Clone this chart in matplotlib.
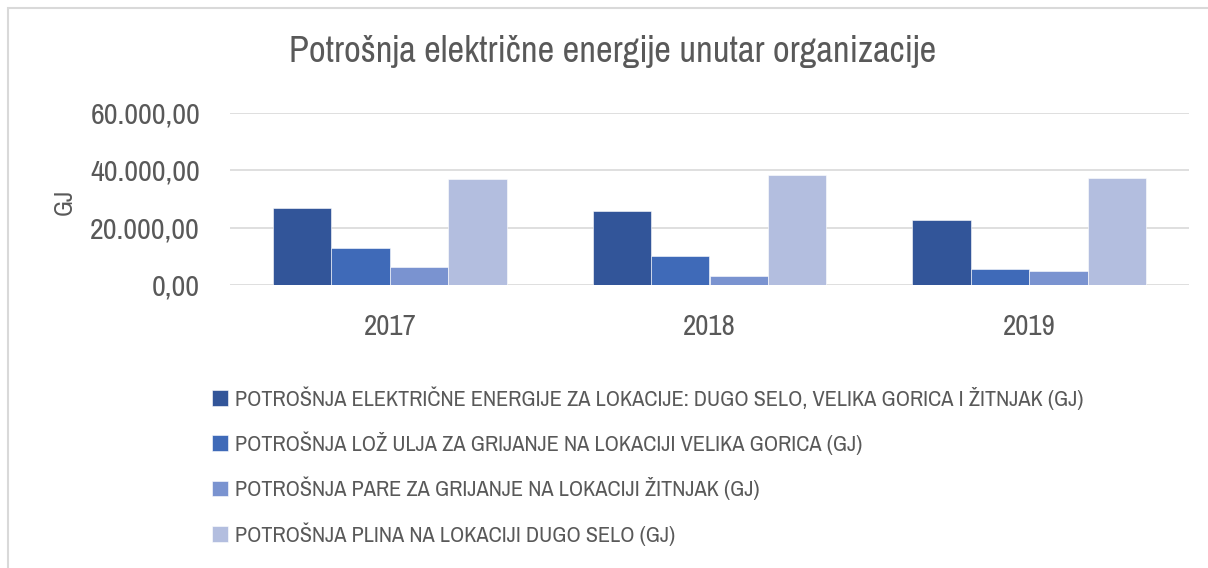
import matplotlib
matplotlib.use("Agg")
import matplotlib.pyplot as plt
from matplotlib import font_manager
from matplotlib.patches import Rectangle
from matplotlib.ticker import FuncFormatter
import numpy as np

# --- podaci ---
godine = ["2017", "2018", "2019"]
serije = [
    "POTROŠNJA ELEKTRIČNE ENERGIJE ZA LOKACIJE: DUGO SELO, VELIKA GORICA I ŽITNJAK (GJ)",
    "POTROŠNJA LOŽ ULJA ZA GRIJANJE NA LOKACIJI VELIKA GORICA (GJ)",
    "POTROŠNJA PARE ZA GRIJANJE NA LOKACIJI ŽITNJAK (GJ)",
    "POTROŠNJA PLINA NA LOKACIJI DUGO SELO (GJ)",
]
struja = [26800, 25700, 22500]
loz_ulje = [12800, 10000, 5500]
para = [6200, 3100, 4800]
plin = [37000, 38400, 37200]
boje = ["#325599", "#3F6AB8", "#7A93D0", "#B3BEDF"]

# uski font ako postoji
fontovi = {f.name for f in font_manager.fontManager.ttflist}
uski = [f.name for f in font_manager.fontManager.ttflist
        if "Narrow" in f.name or "Condensed" in f.name]
if uski:
    glavni = sorted(uski)[0]
else:
    glavni = "Liberation Sans" if "Liberation Sans" in fontovi else "DejaVu Sans"
plt.rcParams["font.family"] = [glavni, "DejaVu Sans"]
siva = "#595959"

fig = plt.figure(figsize=(12.08, 5.68), dpi=100)
ax = fig.add_axes([230 / 1208, 1 - 285 / 568, (1189 - 230) / 1208, (285 - 112.7) / 568])

x = np.arange(len(godine))
w = 0.1825
for i, vals in enumerate([struja, loz_ulje, para, plin]):
    ax.bar(x + (i - 1.5) * w, vals, width=w, color=boje[i], label=serije[i],
           edgecolor="white", linewidth=0.4, zorder=3)

ax.set_xlim(-0.5, 2.5)
ax.set_ylim(0, 60000)
ax.set_yticks([0, 20000, 40000, 60000])
ax.yaxis.set_major_formatter(FuncFormatter(
    lambda v, p: f"{v:,.2f}".replace(",", "X").replace(".", ",").replace("X", ".")))
ax.set_xticks(x)
ax.set_xticklabels(godine)
ax.grid(axis="y", color="#D9D9D9", linewidth=1.2, zorder=0)
for s in ax.spines.values():
    s.set_visible(False)
ax.tick_params(length=0, colors=siva)

naslov = fig.text(613 / 1208, 1 - 52 / 568, "Potrošnja električne energije unutar organizacije",
                  fontsize=25, color=siva, ha="center", va="center")
fig.text(64 / 1208, 1 - 202 / 568, "GJ", fontsize=18, color=siva,
         rotation=90, ha="center", va="center")

r = fig.canvas.get_renderer()


# velicina teksta prema sirini u referenci
def prilagodi(t, cilj, maks):
    t.set_fontsize(20)
    s = 20 * cilj / t.get_window_extent(r).width
    t.set_fontsize(min(s, maks))
    return min(s, maks)


prilagodi(naslov, 645, 32)

probe = fig.text(0, 0, "60.000,00")
vy = prilagodi(probe, 110, 24)
probe.set_text("2017")
vx = prilagodi(probe, 53, 24)
probe.set_text(serije[0])
vl = prilagodi(probe, 852, 18)
probe.remove()

ax.tick_params(axis="y", labelsize=vy, pad=30 * 0.72)
ax.tick_params(axis="x", labelsize=vx, pad=29 * 0.72)

px = vl * 100 / 72
leg = fig.legend(loc="center left", bbox_to_anchor=(212 / 1208, 1 - 466 / 568),
                 frameon=False, fontsize=vl, handlelength=16 / px, handleheight=16 / px,
                 handletextpad=7 / px, labelspacing=(44 - px) / px, borderpad=0,
                 borderaxespad=0)
for t in leg.get_texts():
    t.set_color(siva)

fig.patches.append(Rectangle((8 / 1208, -0.01), 1.0, 1 - 8 / 568 + 0.01,
                             transform=fig.transFigure, fill=False,
                             edgecolor="#D9D9D9", linewidth=1.5))

fig.savefig("out.png", dpi=100)
